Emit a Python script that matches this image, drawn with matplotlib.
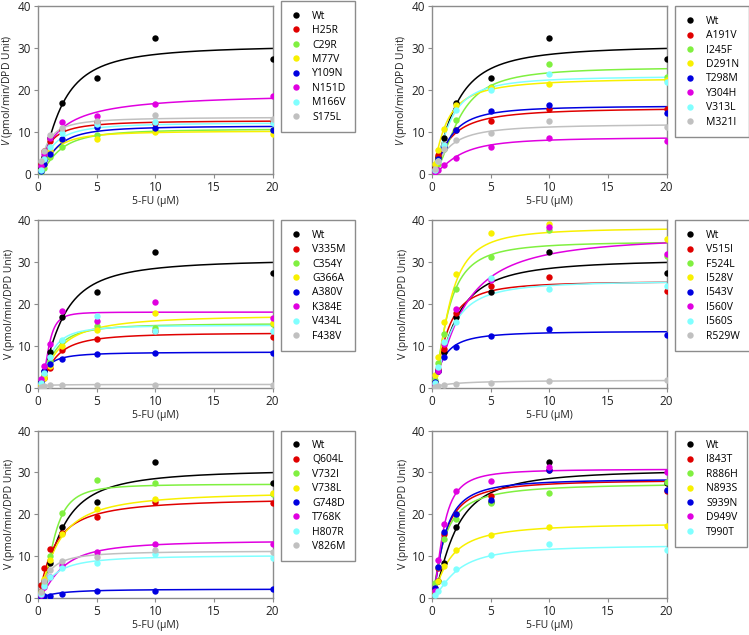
import numpy as np
import matplotlib
matplotlib.use('Agg')
import matplotlib.pyplot as plt

plt.rcParams['font.family'] = ['Open Sans', 'DejaVu Sans']
plt.rcParams['mathtext.fontset'] = 'custom'
plt.rcParams['mathtext.it'] = 'Open Sans:italic'
plt.rcParams['mathtext.rm'] = 'Open Sans'

# 5-FU concentrations (uM)
conc = [0.2, 0.5, 1, 2, 5, 10, 20]

# wild type, shown in every panel
wt_v = [1.5, 4.0, 8.5, 17.0, 23.0, 32.5, 27.5]
wt_fit = (30.8, 1.85, 1.5)  # Vmax, K, Hill n

p1_labels = ['H25R', 'C29R', 'M77V', 'Y109N', 'N151D', 'M166V', 'S175L']
p1_v = [
    [2.5, 5.5, 7.8, 10.5, 12.3, 12.2, 12.3],
    [0.5, 1.5, 4.0, 6.5, 9.3, 10.2, 10.5],
    [1.0, 2.5, 5.5, 8.0, 8.3, 10.0, 9.6],
    [0.8, 2.3, 4.8, 8.3, 11.2, 10.9, 10.6],
    [2.0, 4.8, 8.6, 12.3, 13.9, 16.6, 18.6],
    [1.0, 3.5, 6.5, 9.7, 12.0, 12.3, 12.1],
    [3.0, 5.5, 9.3, 10.9, 12.7, 14.1, 13.1],
]
p1_fit = [(12.8, 0.8, 1.3), (10.8, 1.7, 1.6), (10.3, 1.2, 1.5), (11.5, 1.4, 1.6),
          (19.5, 1.6, 1.0), (12.3, 1.1, 1.4), (13.6, 0.7, 1.3)]

p2_labels = ['A191V', 'I245F', 'D291N', 'T298M', 'Y304H', 'V313L', 'M321I']
p2_v = [
    [1.5, 4.5, 7.0, 10.6, 12.7, 15.5, 15.4],
    [0.8, 2.5, 6.0, 12.8, 20.8, 26.3, 23.2],
    [2.5, 5.8, 10.7, 16.4, 20.5, 21.5, 22.5],
    [1.0, 3.5, 6.5, 10.6, 15.1, 16.5, 14.6],
    [0.4, 1.0, 2.1, 3.8, 6.5, 8.7, 7.9],
    [1.0, 3.0, 7.0, 15.2, 20.1, 23.9, 22.0],
    [1.2, 3.0, 6.0, 8.2, 9.7, 12.7, 11.1],
]
p2_fit = [(15.9, 1.4, 1.3), (25.5, 2.2, 1.9), (23.0, 1.1, 1.3), (16.3, 1.4, 1.6),
          (8.8, 2.2, 1.6), (23.4, 1.4, 1.6), (12.0, 1.3, 1.3)]

p3_labels = ['V335M', 'C354Y', 'G366A', 'A380V', 'K384E', 'V434L', 'F438V']
p3_v = [
    [0.8, 2.3, 4.7, 9.0, 11.6, 13.5, 12.1],
    [1.0, 3.0, 6.5, 11.3, 14.8, 14.3, 15.2],
    [0.8, 2.5, 5.2, 9.9, 13.9, 17.8, 15.6],
    [1.5, 4.1, 5.7, 6.9, 8.1, 8.3, 8.3],
    [2.1, 5.3, 10.5, 18.4, 16.0, 20.4, 16.6],
    [1.2, 3.5, 7.5, 11.4, 17.2, 13.6, 13.6],
    [0.2, 0.5, 0.6, 0.7, 0.8, 0.8, 0.8],
]
p3_fit = [(13.2, 1.3, 1.5), (15.4, 1.2, 1.6), (17.5, 1.6, 1.3), (8.6, 0.6, 1.3),
          (18.1, 0.85, 2.8), (15.0, 1.0, 1.7), (0.85, 0.3, 1.0)]

p4_labels = ['V515I', 'F524L', 'I528V', 'I543V', 'I560V', 'I560S', 'R529W']
p4_v = [
    [1.5, 4.5, 9.3, 18.0, 24.3, 26.6, 23.1],
    [2.0, 6.0, 13.0, 23.6, 31.3, 37.7, 31.6],
    [3.0, 7.3, 15.7, 27.1, 37.0, 39.2, 35.6],
    [1.5, 4.1, 7.5, 9.8, 12.4, 14.0, 12.7],
    [1.0, 4.0, 10.5, 18.8, 25.7, 38.3, 31.9],
    [1.2, 5.0, 11.0, 15.8, 26.3, 23.7, 24.4],
    [0.2, 0.5, 0.6, 0.9, 1.3, 1.6, 1.8],
]
p4_fit = [(25.5, 1.2, 1.6), (35.0, 1.3, 1.7), (38.2, 1.4, 1.8), (13.6, 0.9, 1.4),
          (36.5, 2.5, 1.4), (25.6, 1.5, 1.6), (1.9, 1.5, 1.0)]

p5_labels = ['Q604L', 'V732I', 'V738L', 'G748D', 'T768K', 'H807R', 'V826M']
p5_v = [
    [3.1, 7.1, 11.7, 15.5, 19.4, 22.9, 22.6],
    [1.0, 3.5, 10.0, 20.3, 28.1, 27.4, 24.9],
    [1.5, 4.5, 9.0, 15.2, 21.2, 23.7, 25.0],
    [0.2, 0.4, 0.6, 1.0, 1.7, 1.8, 2.1],
    [0.8, 2.6, 5.0, 7.9, 11.1, 12.9, 13.0],
    [1.0, 3.0, 5.0, 7.1, 8.4, 10.5, 9.7],
    [1.5, 4.0, 6.7, 8.8, 9.9, 11.6, 11.0],
]
p5_fit = [(24.0, 1.3, 1.2), (27.2, 1.3, 2.2), (25.5, 1.6, 1.3), (2.2, 1.5, 1.2),
          (13.8, 1.9, 1.5), (10.3, 1.2, 1.3), (11.3, 0.8, 1.3)]

p6_labels = ['I843T', 'R886H', 'N893S', 'S939N', 'D949V', 'T990T']
p6_v = [
    [2.5, 7.1, 15.4, 20.1, 24.3, 30.6, 25.5],
    [3.7, 7.5, 14.2, 19.0, 22.7, 25.2, 27.6],
    [1.5, 4.0, 7.7, 11.6, 15.0, 17.0, 17.3],
    [2.5, 7.5, 15.7, 20.2, 23.5, 30.7, 25.9],
    [1.8, 9.1, 17.6, 25.5, 28.0, 31.2, 30.0],
    [0.8, 1.7, 3.6, 6.9, 10.4, 13.0, 11.5],
]
p6_fit = [(28.3, 1.0, 1.4), (27.5, 1.0, 1.3), (18.0, 1.4, 1.3), (28.5, 1.0, 1.5),
          (30.8, 0.9, 1.8), (12.7, 2.0, 1.5)]

colors = ['#e00000', '#80f040', '#f8f000', '#0000e0', '#e000e0', '#80ffff', '#c0c0c0']


def hill(x, vmax, k, n):
    return vmax * x**n / (k**n + x**n)


panels = [(p1_labels, p1_v, p1_fit), (p2_labels, p2_v, p2_fit),
          (p3_labels, p3_v, p3_fit), (p4_labels, p4_v, p4_fit),
          (p5_labels, p5_v, p5_fit), (p6_labels, p6_v, p6_fit)]

fig = plt.figure(figsize=(7.49, 6.35), dpi=100)
lefts = [0.051, 0.577]
bottoms = [0.726, 0.389, 0.058]
w, h = 0.313, 0.264
xs = np.linspace(0, 20, 400)
spine_c = '#8c8c8c'

for i, (labels, vals, fits) in enumerate(panels):
    ax = fig.add_axes([lefts[i % 2], bottoms[i // 2], w, h])
    names = ['Wt'] + labels
    allv = [wt_v] + vals
    allf = [wt_fit] + fits
    cols = ['black'] + colors[:len(labels)]
    for f, c in zip(allf, cols):
        ax.plot(xs, hill(xs, *f), color=c, lw=1.1, zorder=2)
    for name, v, c in zip(names, allv, cols):
        ax.plot(conc, v, 'o', color=c, ms=4.6, mew=0, label=name, zorder=3)
    ax.set_xlim(0, 20)
    ax.set_ylim(0, 40)
    ax.set_xticks([0, 5, 10, 15, 20])
    ax.set_yticks([0, 10, 20, 30, 40])
    for s in ax.spines.values():
        s.set_color(spine_c)
        s.set_linewidth(1.0)
    ax.tick_params(labelsize=8.5, length=3, color=spine_c, pad=2, labelcolor='#222222')
    ax.set_xlabel('5-FU (\u03bcM)', fontsize=7.5, labelpad=1.5, color='#222222')
    if i < 2:
        ax.set_ylabel('$V$ (pmol/min/DPD Unit)', fontsize=7.5, labelpad=2, color='#222222')
    else:
        ax.set_ylabel('V (pmol/min/DPD Unit)', fontsize=7.5, labelpad=2, color='#222222')
    top = 1.03 if i == 0 else 1.0
    leg = ax.legend(loc='upper left', bbox_to_anchor=(1.036, top), borderaxespad=0,
                    fontsize=7.5, handlelength=1.0, handletextpad=1.1,
                    borderpad=0.9, labelspacing=0.33, fancybox=False,
                    edgecolor=spine_c, framealpha=1)
    leg.get_frame().set_linewidth(1.0)

fig.savefig('out.png', dpi=100)
